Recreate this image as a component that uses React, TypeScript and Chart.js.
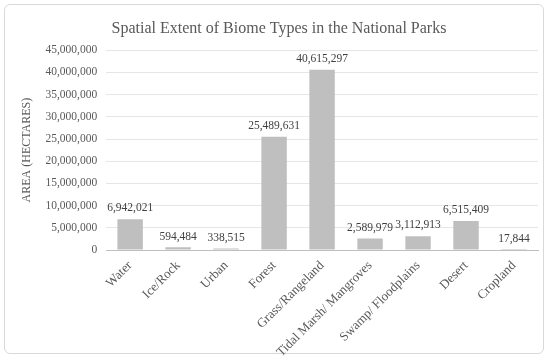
import React, { useEffect, useRef } from "react";
import { Chart, registerables } from "chart.js";

Chart.register(...registerables);

const categories = [
  "Water",
  "Ice/Rock",
  "Urban",
  "Forest",
  "Grass/Rangeland",
  "Tidal Marsh/ Mangroves",
  "Swamp/ Floodplains",
  "Desert",
  "Cropland",
];
const areaValues = [6942021, 594484, 338515, 25489631, 40615297, 2589979, 3112913, 6515409, 17844];
const chartTitle = "Spatial Extent of Biome Types in the National Parks";
const yAxisTitle = "AREA (HECTARES)";
const yMax = 45000000;
const yStep = 5000000;

const FONT = "'Liberation Serif', 'Times New Roman', serif";

const fmt = (v: number) => Math.round(v).toLocaleString("en-US");

const dataLabelPlugin = {
  id: "dataLabels",
  afterDatasetsDraw(chart: any) {
    const ctx = chart.ctx;
    const meta = chart.getDatasetMeta(0);
    const ds = chart.data.datasets[0];
    ctx.save();
    ctx.font = `11.5px ${FONT}`;
    ctx.fillStyle = "#404040";
    ctx.textAlign = "center";
    ctx.textBaseline = "bottom";
    meta.data.forEach((bar: any, i: number) => {
      ctx.fillText(fmt(ds.data[i] as number), bar.x, bar.y - 5);
    });
    ctx.restore();
  },
};

export default function App() {
  const canvasRef = useRef<HTMLCanvasElement | null>(null);

  useEffect(() => {
    if (!canvasRef.current) return;
    const chart = new Chart(canvasRef.current, {
      type: "bar",
      data: {
        labels: categories,
        datasets: [
          {
            data: areaValues,
            backgroundColor: "#bfbfbf",
            borderWidth: 0,
            barPercentage: 0.53,
            categoryPercentage: 1,
          },
        ],
      },
      options: {
        animation: false,
        responsive: false,
        maintainAspectRatio: false,
        layout: { padding: { left: 20, right: 12, top: 10, bottom: 0 } },
        plugins: {
          legend: { display: false },
          tooltip: { enabled: false },
          title: {
            display: true,
            text: chartTitle,
            color: "#595959",
            font: { family: FONT, size: 16, weight: "normal" },
            padding: { top: 9, bottom: 12 },
          },
        },
        scales: {
          x: {
            grid: { display: false, drawTicks: false },
            border: { display: true, color: "#bfbfbf", width: 1 },
            ticks: {
              color: "#595959",
              font: { family: FONT, size: 13 },
              maxRotation: 45,
              minRotation: 45,
              autoSkip: false,
              padding: 8,
            },
            afterFit: (scale: any) => {
              scale.height = 110;
            },
          },
          y: {
            min: 0,
            max: yMax,
            grid: { color: "#e6e6e6", drawTicks: false },
            border: { display: false },
            ticks: {
              stepSize: yStep,
              color: "#595959",
              font: { family: FONT, size: 11.5 },
              padding: 9,
              callback: (v: any) => fmt(Number(v)),
            },
            title: {
              display: true,
              text: yAxisTitle,
              color: "#595959",
              font: { family: FONT, size: 12, weight: "normal" },
              padding: { top: 0, bottom: 2 },
            },
          },
        },
      },
      plugins: [dataLabelPlugin],
    });
    return () => chart.destroy();
  }, []);

  return (
    <div
      style={{
        position: "fixed",
        left: 0,
        top: 0,
        width: 550,
        height: 360,
        background: "#ffffff",
      }}
    >
      <div
        style={{
          position: "absolute",
          left: 4,
          top: 4,
          width: 540,
          height: 350,
          border: "1px solid #d9d9d9",
          borderRadius: 6,
          boxSizing: "border-box",
        }}
      />
      <canvas
        ref={canvasRef}
        width={550}
        height={360}
        style={{ position: "absolute", left: 0, top: 0, width: 550, height: 360 }}
      />
    </div>
  );
}
